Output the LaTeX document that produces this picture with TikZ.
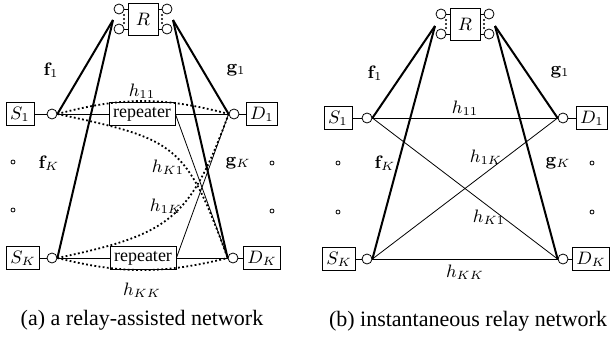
\documentclass[tikz,border=0pt]{standalone}
\usepackage[no-math]{fontspec}
\setmainfont{Liberation Serif}
\usetikzlibrary{positioning}

\begin{document}
\begin{tikzpicture}[
    x=0.5pt, y=-0.5pt,
    font=\fontsize{9}{10}\selectfont,
    box/.style={rectangle, draw, inner sep=2pt, minimum height=11.5pt, minimum width=14pt},
    relaybox/.style={rectangle, draw, inner sep=0pt, minimum width=15pt, minimum height=16pt},
    ant/.style={circle, draw, inner sep=0pt, minimum size=5pt},
    tinydot/.style={circle, draw, inner sep=0pt, minimum size=2pt},
    link/.style={line width=1pt},
    dotline/.style={line width=0.9pt, dash pattern=on 0.9pt off 1.2pt},
    caption/.style={font=\fontsize{11}{13}\selectfont}
]
\useasboundingbox (0,0) rectangle (610,348);

% ---- (a) relay-assisted network ----
% Relay
\node[relaybox] (ra) at (143,19) {$R$};
\node[ant] (ra1) at (119,9) {};
\node[ant] (ra2) at (119,29) {};
\node[ant] (ra3) at (167,9) {};
\node[ant] (ra4) at (167,29) {};
\foreach \r in {ra1,ra2} \draw (\r.east) -- (\r.east -| ra.west);
\foreach \r in {ra3,ra4} \draw (\r.west) -- (\r.west -| ra.east);
\foreach \d in {-4,0,4} {
    \draw[line width=0.3pt] (124,19+\d) circle (0.4pt);
    \draw[line width=0.3pt] (162,19+\d) circle (0.4pt);
}
\coordinate (pla) at (113,20);
\coordinate (pra) at (173,20);

% Sources, destinations and repeaters
\node[box] (sa1) at (20,114) {$S_1$};
\node[ant] (ta1) at (52,114) {};
\node[box] (saK) at (23,258) {$S_K$};
\node[ant] (taK) at (52,258) {};
\node[ant] (ua1) at (234,114) {};
\node[box] (da1) at (262,114) {$D_1$};
\node[ant] (uaK) at (233,258) {};
\node[box] (daK) at (262,258) {$D_K$};
\node[box] (rep1) at (142,114) {repeater};
\node[box] (repK) at (143,258) {repeater};

% Dots
\node[tinydot] (oa1) at (13,162) {};
\node[tinydot] (oa2) at (13,210) {};
\node[tinydot] (oa3) at (272,163) {};
\node[tinydot] (oa4) at (272,211) {};

% Links
\draw (sa1) -- (ta1);
\draw (saK) -- (taK);
\draw (ua1) -- (da1);
\draw (uaK) -- (daK);
\draw (ta1.east) -- (rep1.west);
\draw (rep1.east) -- (ua1.west);
\draw (taK.east) -- (repK.west);
\draw (repK.east) -- (uaK.west);
\draw (rep1.east) -- (uaK.west);
\draw (repK.east) -- (ua1.west);
\draw[link] (pla) -- (ta1.east);
\draw[link] (pla) -- (taK.east);
\draw[link] (pra) -- (ua1.west);
\draw[link] (pra) -- (uaK.west);
\draw[dotline] (ta1.east) to[bend left=15] (ua1.west);
\draw[dotline] (taK.east) to[bend right=14] (uaK.west);
\draw[dotline] (ta1.east) to[out=-12, in=110, looseness=1.4] (uaK.west);
\draw[dotline] (taK.east) to[out=12, in=-110, looseness=1.3] (ua1.west);

% Labels
\node (fa1) at (51,70) {$\mathbf{f}_1$};
\node (ga1) at (236,70) {$\mathbf{g}_1$};
\node (faK) at (49,163) {$\mathbf{f}_K$};
\node (gaK) at (238,163) {$\mathbf{g}_K$};
\node (ha11) at (142,91) {$h_{11}$};
\node (haK1) at (168,167) {$h_{K1}$};
\node (ha1K) at (166,206) {$h_{1K}$};
\node (haKK) at (142,290) {$h_{KK}$};
\node[caption] (capa) at (142,320) {(a) a relay-assisted network};

% ---- (b) instantaneous relay network ----
% Relay
\node[relaybox] (rb) at (465,24) {$R$};
\node[ant] (rb1) at (441,14) {};
\node[ant] (rb2) at (441,34) {};
\node[ant] (rb3) at (489,14) {};
\node[ant] (rb4) at (489,34) {};
\foreach \r in {rb1,rb2} \draw (\r.east) -- (\r.east -| rb.west);
\foreach \r in {rb3,rb4} \draw (\r.west) -- (\r.west -| rb.east);
\foreach \d in {-4,0,4} {
    \draw[line width=0.3pt] (446,24+\d) circle (0.4pt);
    \draw[line width=0.3pt] (484,24+\d) circle (0.4pt);
}
\coordinate (plb) at (435,26);
\coordinate (prb) at (495,26);

% Sources and destinations
\node[box] (sb1) at (338,118) {$S_1$};
\node[ant] (tb1) at (367,118) {};
\node[box] (sbK) at (339,259) {$S_K$};
\node[ant] (tbK) at (367,259) {};
\node[ant] (ub1) at (563,118) {};
\node[box] (db1) at (592,118) {$D_1$};
\node[ant] (ubK) at (563,259) {};
\node[box] (dbK) at (591,259) {$D_K$};

% Dots
\node[tinydot] (ob1) at (338,163) {};
\node[tinydot] (ob2) at (338,212) {};
\node[tinydot] (ob3) at (592,163) {};
\node[tinydot] (ob4) at (592,212) {};

% Links
\draw (sb1) -- (tb1);
\draw (sbK) -- (tbK);
\draw (ub1) -- (db1);
\draw (ubK) -- (dbK);
\draw (tb1.east) -- (ub1.west);
\draw (tbK.east) -- (ubK.west);
\draw (tb1.east) -- (ubK.west);
\draw (tbK.east) -- (ub1.west);
\draw[link] (plb) -- (tb1.east);
\draw[link] (plb) -- (tbK.east);
\draw[link] (prb) -- (ub1.west);
\draw[link] (prb) -- (ubK.west);

% Labels
\node (fb1) at (375,73) {$\mathbf{f}_1$};
\node (gb1) at (560,72) {$\mathbf{g}_1$};
\node (fbK) at (385,163) {$\mathbf{f}_K$};
\node (gbK) at (558,163) {$\mathbf{g}_K$};
\node (hb11) at (465,108) {$h_{11}$};
\node (hb1K) at (486,157) {$h_{1K}$};
\node (hbK1) at (489,217) {$h_{K1}$};
\node (hbKK) at (465,272) {$h_{KK}$};
\node[caption] (capb) at (468,321) {(b) instantaneous relay network};

\end{tikzpicture}
\end{document}
